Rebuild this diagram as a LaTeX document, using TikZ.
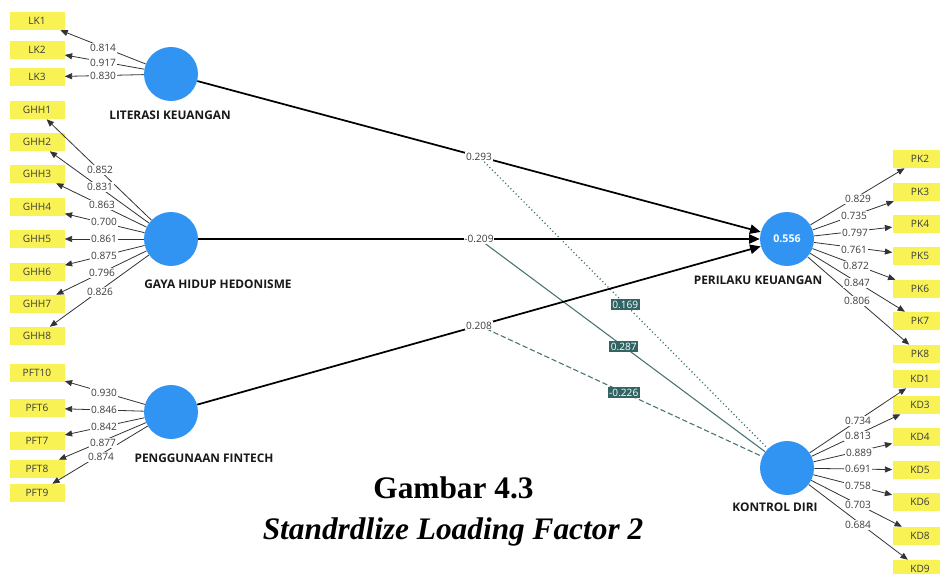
\documentclass[tikz,border=0pt]{standalone}
\usepackage{fontspec}
\setmainfont{Liberation Serif}
\newfontfamily\diafont{Open Sans}
\usetikzlibrary{arrows.meta,calc}
\definecolor{latblue}{RGB}{50,148,242}
\definecolor{indyellow}{RGB}{248,242,85}
\definecolor{modteal}{RGB}{50,100,100}
\definecolor{modline}{RGB}{70,115,115}
\definecolor{txtgray}{RGB}{60,60,60}
\tikzset{
  lat/.style={circle,fill=latblue,minimum size=40.5pt,inner sep=0pt},
  ind/.style={fill=indyellow,minimum width=41.25pt,minimum height=13.5pt,inner sep=0pt,
    font=\diafont\fontsize{7.6}{9}\selectfont,text=txtgray},
  latname/.style={font=\diafont\bfseries\fontsize{8.9}{10}\selectfont,text=black!90},
  ldarrow/.style={draw=black!80,line width=0.6pt,-{Triangle[length=5.5pt,width=4.5pt]}},
  patharrow/.style={draw=black,line width=1.3pt,-{Triangle[length=8pt,width=7pt]}},
  ll/.style={fill=white,inner sep=0.6pt,font=\diafont\fontsize{7.6}{9}\selectfont,text=txtgray},
  modl/.style={draw=modline,line width=0.8pt},
  modbox/.style={fill=modteal,inner sep=1.2pt,font=\diafont\fontsize{7.6}{9}\selectfont,text=white},
  capA/.style={font=\bfseries\fontsize{23.5}{26}\selectfont,anchor=base},
  capB/.style={font=\bfseries\itshape\fontsize{23.5}{26}\selectfont,anchor=base}
}
\begin{document}
\begin{tikzpicture}[x=0.75pt,y=-0.75pt]
\useasboundingbox (0,0) rectangle (940,574);
\clip (0,0) rectangle (940,574);
\fill[white] (0,0) rectangle (940,574);

% latent variables
\node[lat] (lk) at (171,74) {};
\node[lat] (ghh) at (171,239) {};
\node[lat] (pft) at (171,412) {};
\node[lat] (pk) at (787,239) {\diafont\bfseries\fontsize{8}{9}\selectfont\textcolor{white}{0.556}};
\node[lat] (kd) at (787,468) {};

\node[latname] (lkname) at (170,115) {LITERASI KEUANGAN};
\node[latname] (ghhname) at (218,284) {GAYA HIDUP HEDONISME};
\node[latname] (pftname) at (204,458) {PENGGUNAAN FINTECH};
\node[latname] (pkname) at (758,280) {PERILAKU KEUANGAN};
\node[latname] (kdname) at (775,507) {KONTROL DIRI};

% indicators left
\node[ind] (lk1) at (37,21) {LK1};
\node[ind] (lk2) at (37,50) {LK2};
\node[ind] (lk3) at (37,77) {LK3};
\node[ind] (ghh1) at (37,110) {GHH1};
\node[ind] (ghh2) at (37,142) {GHH2};
\node[ind] (ghh3) at (37,174) {GHH3};
\node[ind] (ghh4) at (37,207) {GHH4};
\node[ind] (ghh5) at (37,239) {GHH5};
\node[ind] (ghh6) at (37,272) {GHH6};
\node[ind] (ghh7) at (37,304) {GHH7};
\node[ind] (ghh8) at (37,336) {GHH8};
\node[ind] (pft10) at (37,373) {PFT10};
\node[ind] (pft6) at (37,408) {PFT6};
\node[ind] (pft7) at (37,441) {PFT7};
\node[ind] (pft8) at (37,469) {PFT8};
\node[ind] (pft9) at (37,493) {PFT9};
% indicators right
\node[ind] (pk2) at (920,159) {PK2};
\node[ind] (pk3) at (920,192) {PK3};
\node[ind] (pk4) at (920,224) {PK4};
\node[ind] (pk5) at (920,256) {PK5};
\node[ind] (pk6) at (920,289) {PK6};
\node[ind] (pk7) at (920,321) {PK7};
\node[ind] (pk8) at (920,354) {PK8};
\node[ind] (kd1) at (920,379) {KD1};
\node[ind] (kd3) at (920,405) {KD3};
\node[ind] (kd4) at (920,437) {KD4};
\node[ind] (kd5) at (920,470) {KD5};
\node[ind] (kd6) at (920,502) {KD6};
\node[ind] (kd8) at (920,536) {KD8};
\node[ind] (kd9) at (920,569) {KD9};

% loadings arrows
\foreach \a/\b in {lk/lk1,lk/lk2,lk/lk3,
  ghh/ghh1,ghh/ghh2,ghh/ghh3,ghh/ghh4,ghh/ghh5,ghh/ghh6,ghh/ghh7,ghh/ghh8,
  pft/pft10,pft/pft6,pft/pft7,pft/pft8,pft/pft9,
  pk/pk2,pk/pk3,pk/pk4,pk/pk5,pk/pk6,pk/pk7,pk/pk8,
  kd/kd1,kd/kd3,kd/kd4,kd/kd5,kd/kd6,kd/kd8,kd/kd9}
  \draw[ldarrow] (\a) -- (\b);

% path midpoints
\coordinate (m1) at ($(lk)!0.5!(pk)$);
\coordinate (m2) at ($(ghh)!0.5!(pk)$);
\coordinate (m3) at ($(pft)!0.5!(pk)$);

% moderating lines
\draw[modl,dotted,line width=1pt] (m1) -- (kd);
\draw[modl] (m2) -- (kd);
\draw[modl,dashed,dash pattern=on 4pt off 2pt] (m3) -- (kd);

% structural paths
\draw[patharrow] (lk) -- (pk);
\draw[patharrow] (ghh) -- (pk);
\draw[patharrow] (pft) -- (pk);

\node[ll] (p1) at (m1) {0.293};
\node[ll] (p2) at (m2) {-0.209};
\node[ll] (p3) at (m3) {0.208};

\node[modbox] (mod1) at ($(m1)!0.475!(kd)$) {0.169};
\node[modbox] (mod2) at ($(m2)!0.47!(kd)$) {0.287};
\node[modbox] (mod3) at ($(m3)!0.47!(kd)$) {-0.226};

% loading labels
\node[ll] at (103,48) {0.814};
\node[ll] at (103,63) {0.917};
\node[ll] at (103,76) {0.830};
\node[ll] at (100,170) {0.852};
\node[ll] at (100,187) {0.831};
\node[ll] at (102,205) {0.863};
\node[ll] at (104,222) {0.700};
\node[ll] at (104,239) {0.861};
\node[ll] at (104,256) {0.875};
\node[ll] at (102,273) {0.796};
\node[ll] at (100,292) {0.826};
\node[ll] at (104,393) {0.930};
\node[ll] at (104,410) {0.846};
\node[ll] at (104,427) {0.842};
\node[ll] at (103,443) {0.877};
\node[ll] at (101,457) {0.874};

\node[ll] at (858,199) {0.829};
\node[ll] at (854,216) {0.735};
\node[ll] at (855,233) {0.797};
\node[ll] at (854,250) {0.761};
\node[ll] at (856,266) {0.872};
\node[ll] at (857,283) {0.847};
\node[ll] at (857,301) {0.806};

\node[ll] at (858,421) {0.734};
\node[ll] at (858,436) {0.813};
\node[ll] at (859,453) {0.889};
\node[ll] at (858,469) {0.691};
\node[ll] at (858,486) {0.758};
\node[ll] at (858,505) {0.703};
\node[ll] at (858,525) {0.684};

% caption
\node[capA] (capa) at (453.5,498) {Gambar 4.3};
\node[capB] (capb) at (453,539) {Standrdlize Loading Factor 2};
\end{tikzpicture}
\end{document}
